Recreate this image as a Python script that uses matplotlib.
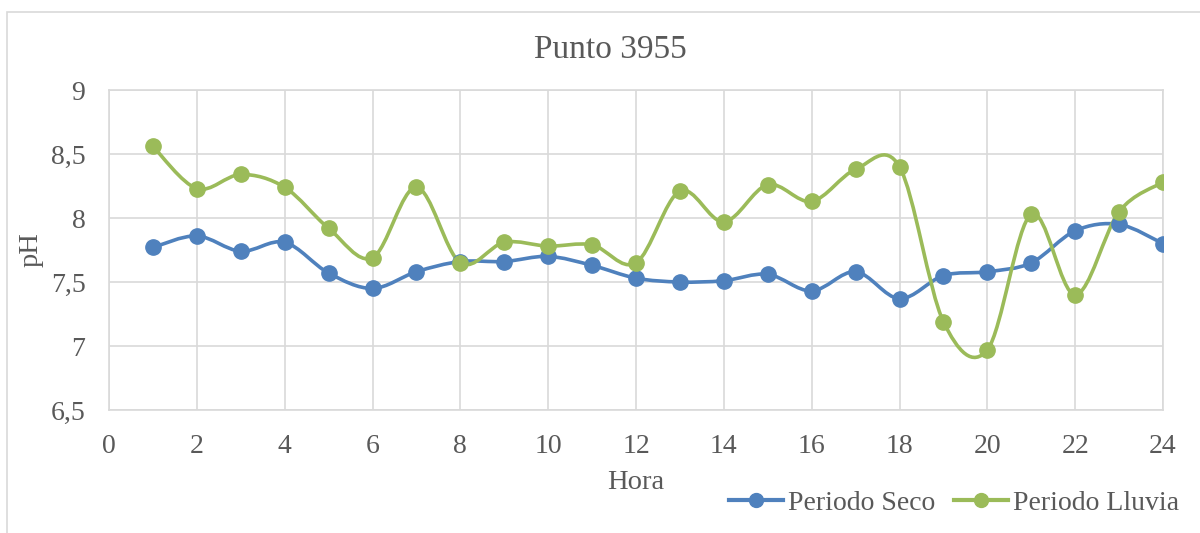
import numpy as np
import matplotlib
matplotlib.use("Agg")
import matplotlib.pyplot as plt
from matplotlib.path import Path
from matplotlib.patches import PathPatch, Rectangle
from matplotlib.lines import Line2D

plt.rcParams['font.family'] = ['Liberation Serif', 'DejaVu Serif']

hora = list(range(1, 25))
seco = [7.77, 7.86, 7.74, 7.81, 7.57, 7.45, 7.58, 7.66, 7.66, 7.70, 7.63, 7.53,
        7.50, 7.51, 7.56, 7.43, 7.58, 7.37, 7.55, 7.58, 7.65, 7.90, 7.95, 7.80]
lluvia = [8.56, 8.23, 8.34, 8.24, 7.92, 7.69, 8.24, 7.65, 7.81, 7.78, 7.79, 7.65,
          8.21, 7.97, 8.26, 8.13, 8.38, 8.40, 7.19, 6.97, 8.03, 7.40, 8.05, 8.28]

BLUE = '#4f81bd'
GREEN = '#9bbb59'
TXT = '#595959'
GRID = '#d9d9d9'


def smooth_path(x, y):
    # cubic bezier through every point (catmull-rom style tangents)
    pts = np.column_stack([x, y]).astype(float)
    n = len(pts)
    verts = [pts[0]]
    codes = [Path.MOVETO]
    for i in range(n - 1):
        p0 = pts[i - 1] if i > 0 else pts[i]
        p1 = pts[i]
        p2 = pts[i + 1]
        p3 = pts[i + 2] if i + 2 < n else pts[i + 1]
        c1 = p1 + (p2 - p0) / 6.0
        c2 = p2 - (p3 - p1) / 6.0
        verts += [c1, c2, p2]
        codes += [Path.CURVE4] * 3
    return Path(verts, codes)


fig = plt.figure(figsize=(12, 5.33), dpi=100)
ax = fig.add_axes([109 / 1200, 1 - 410 / 533, (1163 - 109) / 1200, (410 - 90) / 533])

for ys, col in [(seco, BLUE), (lluvia, GREEN)]:
    ax.add_patch(PathPatch(smooth_path(hora, ys), facecolor='none', edgecolor=col,
                           lw=2.6, capstyle='round', joinstyle='round', zorder=3))
    ax.plot(hora, ys, 'o', color=col, markersize=11, zorder=4)

ax.set_xlim(0, 24)
ax.set_ylim(6.5, 9)
ax.set_xticks(range(0, 25, 2))
yt = [6.5, 7, 7.5, 8, 8.5, 9]
ax.set_yticks(yt)
ax.set_yticklabels([('%g' % v).replace('.', ',') for v in yt])
ax.grid(True, color=GRID, lw=1.2)
ax.set_axisbelow(True)
for s in ax.spines.values():
    s.set_color(GRID)
    s.set_linewidth(1.2)
ax.tick_params(length=0, labelsize=20, labelcolor=TXT)
ax.tick_params(axis='x', pad=17)
ax.tick_params(axis='y', pad=17)

ax.set_xlabel('Hora', fontsize=20.5, color=TXT, labelpad=8)
ax.set_ylabel('pH', fontsize=20.5, color=TXT, labelpad=5)
fig.text(0.509, 1 - 50 / 533, 'Punto 3955', ha='center', va='center',
         fontsize=24, color=TXT)

handles = [Line2D([], [], color=BLUE, lw=3, marker='o', markersize=10),
           Line2D([], [], color=GREEN, lw=3, marker='o', markersize=10)]
fig.legend(handles, ['Periodo Seco', 'Periodo Lluvia'], loc='center',
           bbox_to_anchor=(0.795, 1 - 503 / 533), ncol=2, frameon=False,
           fontsize=20, labelcolor=TXT, handlelength=1.95, handletextpad=0.15,
           columnspacing=0.7, borderpad=0)

fig.add_artist(Rectangle((7 / 1200, -0.1), 1.2, 1.1 - 12 / 533, transform=fig.transFigure,
                         fill=False, edgecolor=GRID, lw=1.2))

fig.savefig('out.png', dpi=100)
